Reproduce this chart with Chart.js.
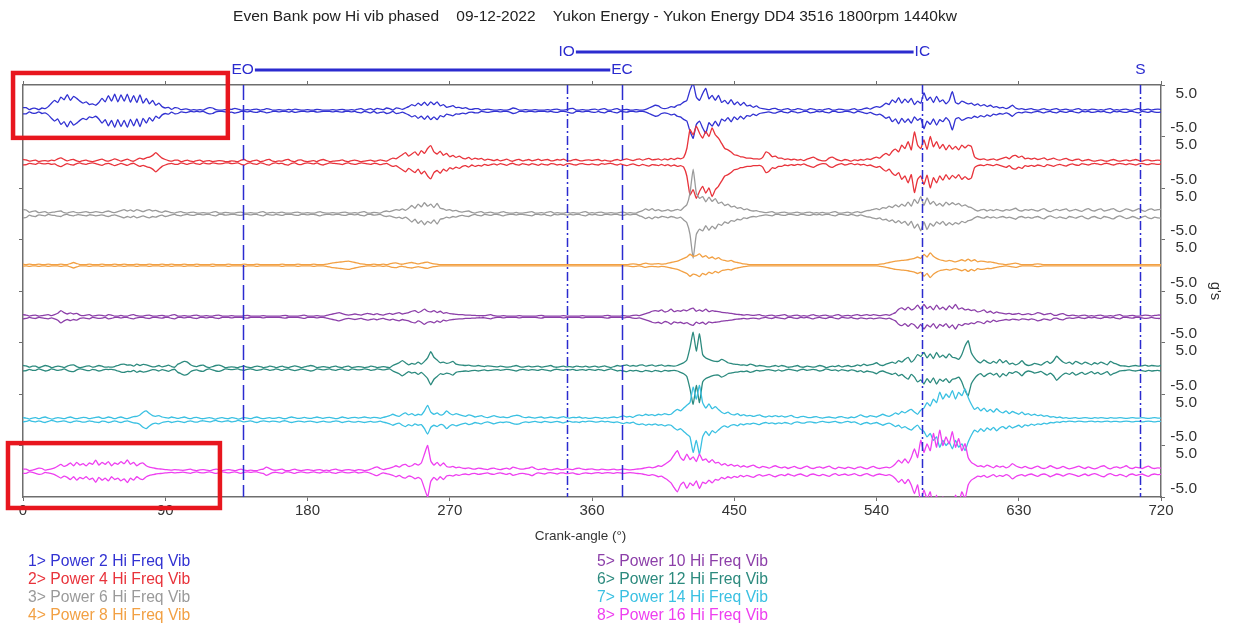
<!DOCTYPE html>
<html>
<head>
<meta charset="utf-8">
<script src="https://cdn.jsdelivr.net/npm/chart.js@4.4.1/dist/chart.umd.min.js"></script>
<style>
  html, body { margin: 0; padding: 0; background: #fff; }
  #wrap { width: 1233px; height: 627px; position: relative; }
</style>
</head>
<body>
<div id="wrap"><canvas id="vib"></canvas></div>
<script>
// ---- Labels ------------------------------------------------------------
const chartTitle = 'Even Bank pow Hi vib phased    09-12-2022    Yukon Energy - Yukon Energy DD4 3516 1800rpm 1440kw';
const xAxisTitle = 'Crank-angle (\u00b0)';
const yAxisTitle = "g's";
const angleTicks = [0, 90, 180, 270, 360, 450, 540, 630, 720];
const gTicks = [5, -5];

const traceNames = [
  'Power 2 Hi Freq Vib', 'Power 4 Hi Freq Vib', 'Power 6 Hi Freq Vib', 'Power 8 Hi Freq Vib',
  'Power 10 Hi Freq Vib', 'Power 12 Hi Freq Vib', 'Power 14 Hi Freq Vib', 'Power 16 Hi Freq Vib'
];
const traceColors = ['#3232d2', '#e8333b', '#9a9a9a', '#f2a043', '#8c3fa9', '#2c8a7e', '#3ac0e2', '#ee3ff0'];

// Valve / spark events (crank degrees)
const eventNames  = ['EO', 'IO', 'EC', 'IC', 'S'];
const eventAngles = [139, 344, 379, 569, 707];

// ---- Envelope amplitude (g), one value every 2 crank degrees, 0..720 ----
// each row covers 40 degrees
const crankStep = 2;

const power2 = [
  0.9,0.9,0.3,0.7,0.7,0.3,0.8,0.6,1.2,2.2, 3.0,2.4,4.0,3.2,4.7,3.0,4.2,3.6,2.8,2.2,
  2.6,1.8,2.0,1.6,2.4,3.6,2.6,4.4,2.8,4.8, 2.6,4.6,2.8,4.8,2.5,4.4,2.4,4.6,2.2,3.6,
  2.0,3.0,1.6,2.2,1.2,0.8,1.0,0.4,0.9,0.8, 0.3,0.5,0.5,0.2,0.3,0.2,0.3,0.2,0.6,0.9,
  0.8,0.3,0.2,0.2,0.3,0.5,0.4,0.7,0.5,0.2, 0.2,0.3,0.2,0.4,0.5,0.2,0.3,0.6,0.5,0.2,
  0.2,0.3,0.2,0.2,0.4,0.2,0.5,0.3,0.2,0.2, 0.3,0.2,0.2,0.4,0.3,0.2,0.2,0.2,0.3,0.2,
  0.3,0.4,0.2,0.2,0.3,0.2,0.5,0.6,0.2,0.4, 0.6,0.2,0.7,0.5,0.3,0.8,0.6,0.2,0.8,0.7,
  0.4,0.8,1.2,1.8,1.4,2.2,1.6,2.5,1.5,2.6, 1.8,2.6,1.4,1.8,1.0,1.2,1.5,0.9,1.0,0.7,
  0.9,0.5,0.4,0.6,0.6,0.2,0.3,0.5,0.3,0.2, 0.2,0.3,0.2,0.2,0.4,0.8,0.6,0.2,0.2,0.3,
  0.2,0.2,0.3,0.2,0.2,0.2,0.3,0.2,0.4,0.5, 0.2,0.2,0.3,0.6,0.7,0.2,0.2,0.3,0.2,0.2,
  0.4,0.5,0.2,0.5,0.6,0.2,0.2,0.5,0.6,0.2, 0.3,0.4,0.2,0.2,0.3,0.2,0.2,0.4,0.8,1.2,
  1.6,1.4,0.8,0.6,0.8,1.2,1.0,1.6,1.8,2.5, 3.0,6.0,8.0,4.0,3.0,5.0,6.5,3.5,4.5,3.0,
  4.5,2.4,3.0,2.0,3.2,1.8,2.6,1.6,2.4,1.4, 1.6,1.0,1.4,0.8,0.6,0.5,0.3,0.6,0.7,0.3,
  0.2,0.5,0.6,0.2,0.3,0.6,0.5,0.2,0.2,0.6, 0.5,0.2,0.3,0.2,0.5,0.6,0.2,0.2,0.5,0.4,
  0.2,0.2,0.4,0.6,0.2,0.3,0.6,0.8,0.5,0.9, 1.2,1.0,1.5,2.2,1.8,3.2,2.4,3.8,2.2,3.4,
  2.4,3.6,1.8,2.8,2.2,5.2,3.0,4.0,2.4,4.2, 2.6,3.2,2.0,3.0,5.6,2.4,2.0,2.8,2.4,2.0,
  2.2,1.6,2.0,1.4,1.8,1.2,1.6,1.0,1.2,0.8, 1.0,0.6,1.0,1.6,0.8,0.5,0.6,0.3,0.5,0.6,
  0.3,0.2,0.4,0.6,0.3,0.2,0.5,0.6,0.2,0.3, 0.5,0.2,0.2,0.5,0.6,0.2,0.3,0.2,0.5,0.4,
  0.2,0.3,0.2,0.5,0.6,0.2,0.3,0.2,0.4,0.5, 0.2,0.2,0.5,0.6,0.2,0.3,0.5,0.2,0.4,0.5,
  0.4
];
const power4 = [
  0.8,0.7,0.3,0.5,0.6,0.2,0.4,0.5,0.3,0.6, 0.5,1.0,1.3,0.8,0.4,0.7,0.8,0.4,0.2,0.5,
  0.6,0.3,0.2,0.4,0.7,0.9,0.5,0.3,0.6,1.0, 0.7,0.3,0.6,0.9,0.5,0.3,0.8,1.2,0.9,1.3,
  1.5,2.0,2.8,2.0,1.2,0.8,0.5,0.3,0.6,0.6, 0.2,0.4,0.6,0.3,0.2,0.5,0.6,0.2,0.4,0.5,
  0.2,0.3,0.5,0.4,0.2,0.2,0.4,0.3,0.2,0.6, 0.8,0.3,0.2,0.5,0.6,0.2,0.3,0.7,0.8,0.3,
  0.2,0.4,0.3,0.7,0.8,0.3,0.2,0.6,0.7,0.3, 0.2,0.3,0.5,0.2,0.6,0.8,0.5,0.2,0.3,0.4,
  0.5,0.7,0.3,0.2,0.5,0.6,0.4,0.2,0.3,0.5, 0.6,0.3,0.4,0.7,0.5,0.3,0.8,1.2,1.0,1.6,
  2.2,2.8,1.8,2.4,3.0,2.0,3.4,2.6,4.0,4.8, 3.0,2.4,3.2,2.0,2.6,1.6,2.0,1.4,1.8,1.2,
  1.0,1.4,0.8,1.2,0.9,1.1,0.6,0.9,0.7,0.5, 0.8,0.4,0.6,0.9,0.5,0.3,0.7,0.8,0.4,0.6,
  0.8,0.4,0.6,0.9,0.5,0.7,0.8,0.4,0.5,0.8, 0.6,0.9,0.5,0.4,0.7,0.8,0.5,0.4,0.6,0.7,
  0.5,0.7,0.8,0.4,0.6,0.4,0.3,0.6,0.8,0.5, 0.8,1.0,0.7,0.5,0.8,1.0,0.6,0.9,1.1,0.7,
  0.8,1.0,0.6,1.0,0.7,1.1,0.8,1.2,1.0,1.4, 4.0,9.5,8.0,10.5,8.5,7.0,9.0,7.5,10.0,8.0,
  7.0,5.5,4.0,3.6,3.0,2.2,2.0,1.6,1.5,1.2, 1.2,1.0,1.0,0.9,1.4,3.0,2.6,1.6,1.8,1.2,
  1.2,0.8,1.0,0.7,0.9,0.6,0.8,0.5,0.9,1.2, 1.5,1.0,0.6,0.4,0.5,1.2,1.5,1.0,0.6,0.4,
  0.8,0.6,0.3,0.7,0.5,0.8,0.6,1.0,0.8,1.2, 1.5,1.2,2.0,2.6,2.0,3.2,3.8,3.0,5.0,4.0,
  6.0,3.6,8.8,5.0,4.0,6.5,3.8,7.5,4.5,6.0, 4.0,5.2,3.6,5.0,3.8,4.6,3.6,5.0,4.2,5.0,
  4.6,1.6,1.0,0.8,1.0,0.6,0.8,1.0,0.6,0.9, 1.2,1.5,1.0,1.8,2.0,1.4,1.8,1.0,1.2,0.9,
  1.2,0.8,1.0,1.3,0.7,0.9,1.2,0.8,0.6,0.9, 1.1,0.7,0.5,0.8,0.9,0.4,0.6,0.8,0.5,0.3,
  0.5,0.7,0.4,0.3,0.6,0.8,0.5,0.3,0.5,0.7, 0.4,0.6,0.8,0.5,0.3,0.6,0.7,0.4,0.5,0.6,
  0.5
];
const power6 = [
  1.2,1.1,0.4,0.7,0.8,0.3,0.5,0.6,0.2,0.4, 0.5,0.7,0.8,0.3,0.2,0.5,0.6,0.3,0.3,0.5,
  0.6,0.3,0.4,0.6,0.5,0.3,0.6,0.8,0.5,0.3, 0.6,0.9,1.2,0.8,1.1,0.7,1.2,0.9,0.6,1.0,
  1.2,0.8,1.0,0.6,0.4,0.8,0.6,0.3,0.2,0.5, 0.6,0.3,0.2,0.4,0.5,0.2,0.2,0.3,0.2,0.2,
  0.5,0.6,0.2,0.2,0.4,0.3,0.2,0.2,0.4,0.5, 0.2,0.2,0.3,0.2,0.2,0.5,0.6,0.2,0.3,0.4,
  0.2,0.3,0.5,0.2,0.2,0.2,0.4,0.5,0.2,0.2, 0.3,0.2,0.2,0.4,0.6,0.3,0.2,0.2,0.3,0.2,
  0.2,0.4,0.5,0.2,0.2,0.3,0.2,0.5,0.6,0.2, 0.2,0.4,0.3,0.2,0.6,0.8,0.6,0.9,1.2,1.0,
  1.4,1.0,1.6,2.4,1.6,2.8,2.0,3.2,2.2,2.8, 1.8,3.0,1.6,1.4,1.0,1.2,0.8,1.0,0.6,0.5,
  0.7,0.8,0.4,0.2,0.5,0.6,0.2,0.3,0.5,0.2, 0.2,0.4,0.6,0.3,0.2,0.2,0.4,0.2,0.2,0.3,
  0.5,0.6,0.2,0.2,0.3,0.2,0.5,0.6,0.2,0.3, 0.2,0.2,0.4,0.2,0.3,0.2,0.2,0.5,0.6,0.2,
  0.3,0.2,0.4,0.5,0.2,0.2,0.3,0.2,0.2,0.4, 0.5,0.2,0.3,0.2,0.2,0.6,0.9,1.4,1.0,1.5,
  0.9,1.2,0.8,0.9,1.2,0.8,1.0,1.3,1.0,1.8, 2.6,6.0,13.0,6.0,4.5,5.0,3.5,4.8,3.6,4.4,
  3.0,3.4,2.4,2.8,2.0,2.2,1.6,1.8,1.2,1.4, 1.0,0.8,0.9,0.6,0.5,0.3,0.5,0.6,0.2,0.2,
  0.4,0.5,0.2,0.2,0.3,0.5,0.2,0.2,0.4,0.5, 0.2,0.3,0.2,0.4,0.2,0.2,0.5,0.6,0.2,0.2,
  0.3,0.5,0.2,0.4,0.6,0.3,0.6,0.9,1.0,1.3, 1.5,1.2,1.8,1.6,2.2,1.8,2.6,2.0,2.8,2.2,
  3.4,2.2,4.2,3.0,5.0,2.4,4.6,2.8,3.6,2.4, 3.0,2.2,3.4,2.6,3.2,2.6,3.0,2.2,2.6,2.0,
  1.8,1.2,0.8,1.1,1.3,0.8,1.2,0.9,1.3,1.0, 0.8,1.2,1.0,1.3,1.6,1.0,0.8,1.2,1.0,1.3,
  1.0,0.8,1.2,1.5,0.9,0.6,1.0,1.3,0.9,1.2, 1.4,0.8,1.0,1.3,0.9,0.7,1.2,1.5,1.0,0.8,
  1.2,1.4,0.8,1.0,1.3,1.5,0.9,0.6,1.0,1.4, 1.2,0.8,1.1,1.5,1.0,0.7,1.2,1.4,1.0,1.2,
  1.3
];
const power8 = [
  0.3,0.2,0.3,0.2,0.2,0.3,0.2,0.2,0.3,0.2, 0.2,0.2,0.3,0.2,0.2,0.5,0.8,0.5,0.2,0.2,
  0.2,0.3,0.2,0.2,0.2,0.3,0.2,0.2,0.2,0.3, 0.2,0.2,0.3,0.2,0.2,0.2,0.3,0.2,0.2,0.2,
  0.3,0.2,0.2,0.2,0.3,0.2,0.2,0.3,0.2,0.2, 0.2,0.3,0.2,0.2,0.2,0.3,0.2,0.2,0.2,0.2,
  0.3,0.2,0.2,0.2,0.2,0.3,0.2,0.2,0.2,0.2, 0.3,0.2,0.2,0.2,0.3,0.2,0.2,0.2,0.2,0.2,
  0.2,0.2,0.3,0.2,0.2,0.2,0.2,0.3,0.2,0.2, 0.2,0.2,0.3,0.2,0.2,0.2,0.3,0.5,0.7,0.8,
  0.9,1.0,1.1,1.2,1.0,0.8,0.6,0.4,0.3,0.2, 0.2,0.3,0.2,0.2,0.3,0.2,0.4,0.6,0.7,0.4,
  0.3,0.5,0.7,0.8,0.6,0.4,0.6,0.8,0.9,0.6, 0.4,0.3,0.2,0.2,0.2,0.2,0.2,0.2,0.2,0.2,
  0.2,0.2,0.2,0.2,0.2,0.2,0.2,0.2,0.2,0.2, 0.2,0.2,0.2,0.2,0.2,0.2,0.2,0.2,0.2,0.2,
  0.2,0.2,0.2,0.2,0.2,0.2,0.2,0.2,0.2,0.2, 0.2,0.2,0.2,0.2,0.2,0.2,0.2,0.2,0.2,0.2,
  0.2,0.2,0.2,0.2,0.2,0.2,0.2,0.2,0.2,0.2, 0.2,0.2,0.3,0.4,0.3,0.2,0.4,0.6,0.4,0.3,
  0.4,0.5,0.3,0.4,0.6,0.8,1.0,1.2,1.6,2.0, 2.4,3.2,2.6,2.8,3.3,2.4,2.8,2.0,2.4,1.8,
  2.2,1.6,1.4,1.2,1.4,1.0,0.8,0.6,0.4,0.3, 0.2,0.2,0.2,0.2,0.2,0.2,0.2,0.2,0.2,0.2,
  0.2,0.2,0.2,0.2,0.2,0.2,0.2,0.2,0.2,0.2, 0.2,0.2,0.2,0.2,0.2,0.2,0.2,0.2,0.2,0.2,
  0.2,0.2,0.2,0.2,0.2,0.2,0.2,0.2,0.2,0.2, 0.2,0.3,0.4,0.6,0.8,1.0,1.2,1.3,1.4,1.5,
  1.6,1.8,2.0,2.4,2.0,3.2,2.4,3.6,2.6,2.0, 1.6,1.4,1.2,1.4,1.2,1.0,1.3,1.6,1.2,1.8,
  1.2,1.6,1.0,1.2,1.1,0.9,1.0,0.8,0.6,0.4, 0.3,0.2,0.3,0.5,0.6,0.4,0.2,0.2,0.2,0.2,
  0.3,0.4,0.3,0.2,0.2,0.2,0.2,0.2,0.2,0.2, 0.2,0.2,0.2,0.2,0.2,0.2,0.2,0.2,0.2,0.2,
  0.2,0.2,0.2,0.2,0.2,0.2,0.2,0.2,0.2,0.2, 0.2,0.2,0.2,0.2,0.2,0.2,0.2,0.2,0.2,0.2,
  0.2
];
const power10 = [
  0.6,0.5,0.2,0.4,0.5,0.2,0.3,0.5,0.6,0.3, 0.6,1.0,1.8,1.2,0.8,1.1,0.8,1.0,0.5,0.3,
  0.5,0.6,0.2,0.3,0.5,0.4,0.2,0.6,0.5,0.2, 0.2,0.4,0.2,0.2,0.5,0.6,0.3,0.2,0.2,0.4,
  0.5,0.2,0.2,0.3,0.4,0.2,0.2,0.5,0.6,0.2, 0.2,0.3,0.2,0.2,0.4,0.5,0.2,0.2,0.3,0.2,
  0.2,0.4,0.5,0.2,0.2,0.2,0.3,0.2,0.2,0.2, 0.3,0.4,0.2,0.2,0.2,0.2,0.3,0.2,0.2,0.2,
  0.2,0.2,0.3,0.4,0.2,0.2,0.2,0.2,0.3,0.5, 0.2,0.2,0.2,0.3,0.2,0.2,0.4,0.6,0.8,1.0,
  1.2,0.9,0.6,0.5,0.6,0.8,0.6,0.5,0.8,1.0, 0.8,0.6,0.9,0.6,0.5,0.8,1.0,0.7,1.0,1.2,
  0.8,1.0,1.2,1.6,1.8,1.2,1.6,2.2,1.6,1.4, 1.8,1.2,1.6,1.0,1.2,0.9,0.8,0.7,0.6,0.6,
  0.5,0.5,0.4,0.4,0.3,0.3,0.3,0.5,0.6,0.3, 0.2,0.2,0.3,0.2,0.2,0.2,0.2,0.3,0.2,0.2,
  0.2,0.2,0.2,0.3,0.4,0.2,0.2,0.2,0.2,0.2, 0.2,0.3,0.2,0.2,0.2,0.2,0.2,0.3,0.2,0.2,
  0.2,0.2,0.2,0.2,0.3,0.4,0.2,0.2,0.2,0.2, 0.3,0.2,0.2,0.4,0.5,0.3,0.6,0.9,1.2,1.6,
  1.8,1.6,2.0,1.4,1.6,2.2,1.5,1.8,1.6,2.0, 1.7,2.2,2.5,1.6,2.0,1.6,2.2,1.5,1.8,1.6,
  1.5,1.3,1.2,1.1,1.0,0.8,0.7,0.6,0.5,0.6, 0.5,0.4,0.5,0.6,0.3,0.2,0.4,0.5,0.2,0.3,
  0.5,0.6,0.2,0.2,0.4,0.5,0.2,0.3,0.2,0.4, 0.6,0.3,0.2,0.4,0.5,0.2,0.2,0.5,0.6,0.2,
  0.3,0.4,0.2,0.5,0.6,0.3,0.5,0.6,0.4,0.6, 0.5,0.3,0.5,0.6,0.4,0.8,1.2,2.2,2.6,2.0,
  2.8,2.0,2.4,3.4,2.2,3.6,2.4,3.0,2.0,3.4, 2.2,2.8,2.0,3.2,2.4,3.6,2.2,2.6,2.0,2.2,
  1.8,2.0,1.4,1.6,2.0,1.2,1.6,1.0,1.4,1.1, 1.0,0.8,1.0,0.7,0.8,1.0,0.6,0.7,0.9,0.6,
  0.8,1.2,1.0,0.6,0.8,1.0,0.5,0.4,0.8,0.9, 0.5,0.3,0.5,0.3,0.2,0.4,0.5,0.2,0.3,0.2,
  0.4,0.5,0.2,0.2,0.3,0.2,0.5,0.6,0.2,0.2, 0.3,0.4,0.2,0.2,0.3,0.5,0.4,0.2,0.4,0.5,
  0.5
];
const power12 = [
  0.8,0.7,0.3,0.6,0.6,0.2,0.5,0.8,0.6,0.2, 0.4,0.6,0.5,0.2,0.6,0.9,1.0,0.5,0.2,0.3,
  0.6,0.7,0.3,0.5,0.8,0.6,0.3,0.4,0.3,0.5, 0.8,1.1,1.2,0.9,1.0,0.6,1.2,0.8,1.1,1.0,
  0.7,0.4,0.5,0.8,0.4,0.6,0.9,0.5,0.3,1.2, 1.6,2.0,1.8,1.0,0.6,0.5,0.8,0.9,0.4,0.2,
  0.5,0.8,0.9,0.6,0.2,0.3,0.4,0.3,0.2,0.5, 0.6,0.3,0.2,0.4,0.6,0.5,0.2,0.3,0.6,0.5,
  0.2,0.4,0.6,0.3,0.2,0.5,0.7,0.5,0.2,0.4, 0.6,0.8,0.6,0.2,0.3,0.5,0.3,0.2,0.5,0.6,
  0.3,0.2,0.5,0.6,0.2,0.3,0.5,0.4,0.2,0.3, 0.6,0.5,0.2,0.3,0.5,0.3,0.2,0.8,1.2,1.6,
  2.2,1.6,1.0,1.4,1.2,1.8,1.2,2.0,3.0,4.8, 3.2,2.4,1.6,1.8,1.4,1.6,2.0,1.2,1.0,0.9,
  0.8,0.9,0.7,0.6,0.8,0.6,0.5,0.7,0.6,0.5, 0.4,0.6,0.5,0.3,0.4,0.6,0.8,0.5,0.3,0.5,
  0.6,0.4,0.5,0.6,0.3,0.5,0.6,0.8,0.4,0.3, 0.5,0.6,0.4,0.5,0.3,0.6,0.5,0.4,0.6,0.3,
  0.5,0.6,0.3,0.5,0.7,0.4,0.2,0.5,0.8,0.6, 0.8,1.0,0.6,0.8,0.6,0.9,1.0,0.6,0.8,1.0,
  0.6,0.8,1.0,0.6,0.8,0.7,0.6,0.8,1.2,1.6, 2.4,6.0,10.5,5.0,10.0,4.0,3.0,2.6,2.2,2.0,
  2.0,2.6,2.2,1.6,1.4,1.2,1.1,0.9,1.0,0.8, 1.2,1.0,0.6,0.8,0.7,0.5,0.4,0.6,0.8,0.5,
  0.8,0.6,0.3,0.4,0.6,0.8,0.4,0.3,0.6,0.5, 0.3,0.5,0.8,0.6,0.2,0.4,0.6,0.5,0.8,0.4,
  0.6,0.8,0.5,0.6,1.0,0.7,1.2,0.8,1.0,1.2, 1.6,1.0,0.8,1.2,1.5,1.8,1.4,2.2,1.8,2.6,
  3.2,1.8,2.6,4.0,3.4,4.6,3.0,4.2,2.8,4.6, 3.2,3.8,3.0,4.2,3.2,3.0,2.6,4.0,6.5,8.0,
  4.5,3.0,2.0,1.6,2.4,1.8,1.4,2.0,1.5,2.6, 1.6,2.2,1.2,1.5,1.0,1.4,2.2,1.2,0.8,1.0,
  1.4,1.2,0.9,1.5,2.0,1.4,2.2,3.5,2.6,1.8, 1.4,1.8,1.2,2.0,1.6,1.2,1.8,1.4,1.0,1.6,
  1.2,1.8,1.4,1.0,2.0,1.5,1.2,0.8,0.7,0.6, 0.5,0.7,0.8,0.6,0.7,0.9,0.6,0.8,0.7,0.6,
  0.8
];
const power14 = [
  0.6,0.5,0.2,0.5,0.6,0.3,0.6,0.8,0.5,0.2, 0.4,0.6,0.5,0.3,0.6,0.8,0.5,0.3,0.5,0.7,
  0.6,0.3,0.5,0.7,0.8,0.4,0.5,0.8,0.6,0.3, 0.6,0.8,0.5,0.3,0.6,0.9,1.0,1.4,2.2,2.6,
  1.8,1.2,1.0,1.2,0.8,0.6,0.5,0.8,0.6,0.4, 0.6,0.8,0.5,0.3,0.6,0.7,0.4,0.3,0.5,0.6,
  0.4,0.2,0.5,0.6,0.4,0.3,0.6,0.5,0.2,0.4, 0.6,0.5,0.3,0.6,0.8,0.5,0.3,0.5,0.6,0.4,
  0.5,0.7,0.4,0.3,0.6,0.8,0.6,0.4,0.5,0.7, 0.5,0.4,0.6,0.8,0.6,0.4,0.6,0.7,0.5,0.3,
  0.5,0.8,0.6,0.4,0.6,0.7,0.5,0.6,0.8,0.6, 0.5,0.7,0.6,0.4,0.7,0.9,1.2,1.6,1.2,1.0,
  1.6,2.0,1.4,1.8,1.2,1.6,1.4,2.6,4.2,2.2, 1.6,2.0,1.4,1.6,2.6,1.8,1.4,1.8,1.5,1.2,
  1.0,1.4,1.2,0.8,1.0,1.2,0.8,0.6,0.9,1.2, 0.9,0.7,0.8,0.6,0.8,1.1,1.3,1.2,0.8,0.6,
  0.8,0.6,0.5,0.7,0.8,0.5,0.6,0.8,0.6,0.5, 0.7,0.9,0.6,0.5,0.7,0.6,0.8,0.5,0.6,0.4,
  0.5,0.7,0.6,0.4,0.6,0.5,0.7,0.8,0.6,0.9, 1.1,0.8,1.0,0.7,1.2,1.4,1.2,1.6,1.3,1.5,
  1.2,1.6,1.4,1.8,1.5,1.6,2.4,3.0,2.6,3.4, 4.2,5.0,9.5,6.0,10.0,5.0,3.4,4.6,3.2,3.8,
  3.0,2.2,1.8,2.2,1.6,1.4,1.8,1.2,1.5,1.1, 1.3,1.0,1.2,1.4,1.0,0.8,1.1,0.9,1.2,0.9,
  1.1,0.8,1.0,1.3,0.8,0.6,0.9,1.0,0.7,0.6, 0.8,0.9,0.6,0.5,0.7,0.8,0.6,0.5,0.8,0.9,
  0.6,0.5,0.8,0.6,1.0,1.4,1.0,0.8,1.2,1.0, 0.8,1.2,1.6,1.2,1.0,1.4,2.0,1.6,2.4,2.0,
  2.6,3.0,2.2,1.6,2.8,3.4,5.0,4.0,6.0,5.0, 8.0,6.0,7.5,6.5,8.5,6.0,8.0,7.0,9.0,6.5,
  4.5,3.0,3.6,2.6,3.4,2.4,3.0,2.2,3.2,2.4, 2.0,2.6,1.8,2.4,2.0,1.6,2.2,1.5,1.8,1.3,
  1.6,1.2,1.4,1.0,1.2,0.8,0.9,0.6,0.8,0.5, 0.6,0.4,0.5,0.6,0.4,0.5,0.6,0.5,0.4,0.6,
  0.5,0.6,0.5,0.4,0.6,0.5,0.5,0.6,0.5,0.4, 0.5,0.6,0.5,0.5,0.6,0.5,0.4,0.5,0.6,0.5,
  0.5
];
const power16 = [
  0.6,0.6,0.2,0.3,0.6,0.9,0.8,0.3,0.5,0.7, 1.0,1.5,2.0,1.4,1.8,2.4,1.6,2.6,1.8,2.2,
  1.6,2.4,2.0,3.2,1.8,2.6,2.0,2.8,1.6,2.4, 2.0,2.8,2.2,3.3,2.0,2.6,1.6,2.2,2.4,1.6,
  1.2,1.0,0.8,0.7,0.6,0.5,0.4,0.3,0.5,0.4, 0.3,0.3,0.5,0.6,0.3,0.2,0.4,0.5,0.3,0.2,
  0.4,0.6,0.5,0.2,0.3,0.5,0.3,0.2,0.4,0.6, 0.3,0.2,0.3,0.2,0.2,0.5,0.6,1.2,0.8,0.4,
  0.3,0.5,0.6,0.2,0.2,0.4,0.6,0.3,0.2,0.3, 0.5,0.3,0.2,0.4,0.5,0.2,0.3,0.2,0.5,0.6,
  0.3,0.2,0.4,0.5,0.3,0.2,0.5,0.4,0.2,0.3, 0.6,1.0,1.3,0.8,0.5,0.7,0.9,1.2,1.6,1.2,
  1.8,2.0,1.4,1.6,2.2,1.8,2.4,5.0,7.5,3.0, 1.8,2.6,1.6,2.4,1.4,1.2,1.4,1.0,1.2,0.9,
  0.8,1.0,0.7,0.6,0.9,0.8,0.6,0.5,0.8,0.9, 0.6,0.5,0.7,0.9,0.6,1.2,1.0,0.7,0.6,0.8,
  0.9,1.3,0.8,0.5,0.6,0.8,0.5,0.4,0.6,0.8, 0.5,0.5,0.7,0.6,0.5,0.8,0.9,0.6,0.5,0.6,
  0.7,0.5,0.4,0.6,0.5,0.4,0.5,0.6,0.4,0.5, 0.6,0.5,0.4,0.5,0.6,0.7,0.8,1.0,1.2,1.0,
  1.2,1.6,1.4,2.0,2.6,3.4,4.8,6.0,4.0,3.2, 5.0,3.4,4.2,2.8,5.0,3.2,3.6,2.6,3.4,2.4,
  2.6,1.8,2.2,1.6,2.0,1.5,1.8,1.2,1.6,1.2, 1.5,1.8,1.3,1.0,1.4,1.2,0.9,1.3,1.6,1.2,
  1.0,1.3,0.8,1.1,1.4,1.0,0.8,1.2,1.5,1.0, 0.8,1.1,1.3,0.9,1.2,1.5,1.0,0.7,1.2,1.0,
  0.8,1.2,1.0,0.7,1.1,1.3,0.9,0.7,1.1,1.4, 1.0,0.8,1.0,1.2,1.0,1.4,2.2,3.2,2.4,3.6,
  2.4,4.0,6.5,4.0,9.0,5.5,8.0,6.0,11.0,7.0, 12.0,7.5,10.0,8.0,11.5,7.0,9.5,6.0,8.0,4.0,
  2.6,2.0,1.4,1.6,1.2,1.8,1.4,1.0,1.6,1.2, 1.5,1.0,1.4,2.2,1.6,1.2,1.0,1.4,1.0,0.8,
  1.2,1.5,1.0,0.8,1.1,1.6,1.2,0.8,1.0,1.4, 1.0,0.7,0.9,1.2,1.5,1.1,0.8,1.3,0.9,0.7,
  1.0,1.4,1.6,1.0,0.7,1.1,1.3,0.9,1.2,1.6, 1.0,0.8,1.2,1.0,0.8,1.2,1.5,1.0,0.8,1.0,
  0.9
];

const traces = [power2, power4, power6, power8, power10, power12, power14, power16];

// ---- Stacked band layout: each channel gets its own 15 g band ------------
const BAND = 15;
const TOP = BAND * traces.length;
const bandCentre = k => TOP - BAND * (k + 0.5);
const bandBounds = Array.from({ length: traces.length + 1 }, (_, i) => i * BAND);

// Highlight frames, in crank degrees / stacked-axis units
const highlightBoxes = [
  { x: [-6.3, 129.6], y: [104.6, 123.5] },
  { x: [-9.5, 124.6], y: [-3.2, 15.7] }
];

const FONT = "'Liberation Sans', Arial, sans-serif";
Chart.defaults.font.family = FONT;

const datasets = [];
traces.forEach((amp, k) => {
  const c = bandCentre(k);
  const upper = amp.map((a, i) => ({ x: i * crankStep, y: c + a }));
  const lower = amp.map((a, i) => ({ x: i * crankStep, y: c - a }));
  [upper, lower].forEach(pts => datasets.push({
    label: traceNames[k],
    data: pts,
    borderColor: traceColors[k],
    borderWidth: 1.3,
    pointRadius: 0,
    tension: 0.15,
    fill: false,
    order: -k
  }));
});

const eventColor = '#2b2bcf';
const eventDash = { EO: [15, 5], EC: [15, 5], IO: [9, 3, 2, 3], IC: [9, 3, 2, 3], S: [9, 3, 2, 3] };
const eventRowOffset = { EO: 15, EC: 15, S: 15, IO: 33, IC: 33 };
const eventSpans = [['EO', 'EC'], ['IO', 'IC']];

const overlay = {
  id: 'overlay',
  afterDatasetsDraw(chart) {
    const { ctx, chartArea: a, scales: { x } } = chart;
    ctx.save();
    ctx.strokeStyle = eventColor;
    ctx.lineWidth = 1.5;
    eventNames.forEach((n, i) => {
      const px = Math.round(x.getPixelForValue(eventAngles[i])) + 0.5;
      ctx.setLineDash(eventDash[n]);
      ctx.beginPath();
      ctx.moveTo(px, a.top);
      ctx.lineTo(px, a.bottom);
      ctx.stroke();
    });
    ctx.restore();
  },
  afterDraw(chart) {
    const { ctx, chartArea: a, scales: { x, y } } = chart;
    ctx.save();
    // title
    ctx.fillStyle = '#222';
    ctx.font = '15.5px ' + FONT;
    ctx.textAlign = 'center';
    ctx.textBaseline = 'middle';
    ctx.fillText(chartTitle, (a.left + a.right) / 2 + 3, 17);

    // event labels and open periods
    ctx.font = '15.5px ' + FONT;
    ctx.fillStyle = eventColor;
    const labelPos = {};
    eventNames.forEach((n, i) => {
      const px = x.getPixelForValue(eventAngles[i]);
      const py = a.top - eventRowOffset[n];
      ctx.fillText(n, px, py);
      labelPos[n] = { px, py, w: ctx.measureText(n).width };
    });
    ctx.strokeStyle = eventColor;
    ctx.lineWidth = 3;
    eventSpans.forEach(([s, e]) => {
      const p = labelPos[s], q = labelPos[e];
      ctx.beginPath();
      ctx.moveTo(p.px + p.w / 2 + 1, p.py);
      ctx.lineTo(q.px - q.w / 2 - 1, p.py);
      ctx.stroke();
    });

    // x axis title
    ctx.fillStyle = '#333';
    ctx.font = '13.5px ' + FONT;
    ctx.fillText(xAxisTitle, a.right / 2, a.bottom + 39);

    // y axis title (rotated, reads top to bottom)
    ctx.save();
    ctx.translate(a.right + 54, (a.top + a.bottom) / 2);
    ctx.rotate(Math.PI / 2);
    ctx.font = '15px ' + FONT;
    ctx.fillText(yAxisTitle, 0, 0);
    ctx.restore();

    // channel legend
    ctx.textAlign = 'left';
    ctx.font = '15.7px ' + FONT;
    traceNames.forEach((n, k) => {
      const col = Math.floor(k / 4), row = k % 4;
      ctx.fillStyle = traceColors[k];
      ctx.fillText(`${k + 1}> ${n}`, col ? 597 : 28, a.bottom + 65 + row * 18);
    });

    // highlight frames
    ctx.strokeStyle = '#e8161e';
    ctx.lineWidth = 4.5;
    highlightBoxes.forEach(b => {
      const x1 = x.getPixelForValue(b.x[0]), x2 = x.getPixelForValue(b.x[1]);
      const y1 = y.getPixelForValue(b.y[1]), y2 = y.getPixelForValue(b.y[0]);
      ctx.strokeRect(x1, y1, x2 - x1, y2 - y1);
    });
    ctx.restore();
  }
};

const axisColor = '#6e6e6e';

new Chart(document.getElementById('vib'), {
  type: 'line',
  data: { datasets },
  plugins: [overlay],
  options: {
    responsive: true,
    maintainAspectRatio: false,
    animation: false,
    events: [],
    layout: { padding: { right: 36 } },
    plugins: { legend: { display: false }, tooltip: { enabled: false }, title: { display: false } },
    scales: {
      x: {
        type: 'linear', position: 'bottom', min: 0, max: 720,
        afterBuildTicks: s => { s.ticks = angleTicks.map(v => ({ value: v })); },
        afterFit: s => { s.height = 130; },
        ticks: { color: '#333', font: { size: 15 }, padding: 1, maxRotation: 0, autoSkip: false },
        grid: { drawOnChartArea: false, tickLength: 4, color: axisColor },
        border: { color: axisColor, width: 1.5 }
      },
      xTop: {
        type: 'linear', position: 'top', min: 0, max: 720,
        afterBuildTicks: s => { s.ticks = angleTicks.map(v => ({ value: v })); },
        afterFit: s => { s.height = 85; },
        ticks: { display: false },
        grid: { drawOnChartArea: false, tickLength: 4, color: axisColor },
        border: { color: axisColor, width: 1.5 }
      },
      y: {
        type: 'linear', position: 'left', min: 0, max: TOP,
        afterBuildTicks: s => { s.ticks = bandBounds.slice(1, -1).map(v => ({ value: v })); },
        afterFit: s => { s.width = 23; },
        ticks: { display: false },
        grid: { drawOnChartArea: false, tickLength: 4, color: axisColor },
        border: { color: axisColor, width: 1.5 }
      },
      y2: {
        type: 'linear', position: 'right', min: 0, max: TOP,
        afterBuildTicks: s => {
          const t = bandBounds.map(v => ({ value: v, lbl: '' }));
          traces.forEach((_, k) => gTicks.forEach(g => t.push({ value: bandCentre(k) + g, lbl: g.toFixed(1) })));
          s.ticks = t;
        },
        afterFit: s => { s.width = 36; },
        ticks: {
          color: '#333', font: { size: 15.5 }, padding: 5, autoSkip: false, crossAlign: 'far',
          callback: (v, i, t) => t[i].lbl
        },
        grid: {
          drawOnChartArea: false, tickLength: 4,
          tickColor: c => (c.tick && c.tick.lbl === '') ? axisColor : 'rgba(0,0,0,0)'
        },
        border: { color: axisColor, width: 1.5 }
      }
    }
  }
});
</script>
</body>
</html>
